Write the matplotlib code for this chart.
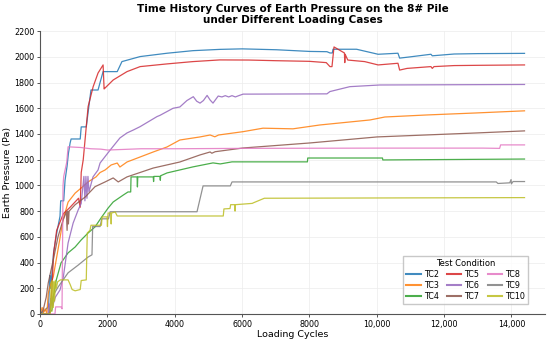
import matplotlib
matplotlib.use('Agg')
import matplotlib.pyplot as plt
from matplotlib.ticker import FuncFormatter, MultipleLocator

# Earth pressure (Pa) vs loading cycles
tc2_x = [0, 150, 250, 290, 300, 330, 400, 500, 590, 610, 700, 740, 800, 840, 890, 920, 1190, 1220, 1370, 1440, 1510,
         1720, 1780, 1870, 2290, 2430, 2970, 3770, 4540, 5340, 6000, 7030, 8010, 8520, 8610, 8680, 8700, 9400, 10040,
         10630, 10680, 11000, 11610, 11650, 12300, 13000, 14390]
tc2_y = [0, 30, 60, 300, 200, 250, 480, 640, 760, 880, 880, 1040, 1150, 1250, 1330, 1361, 1361, 1455, 1455, 1600, 1742,
         1742, 1800, 1885, 1885, 1963, 2002, 2028, 2048, 2058, 2062, 2055, 2042, 2040, 2030, 2030, 2059, 2059, 2020,
         2028, 1990, 2000, 2020, 2008, 2022, 2025, 2027]

tc3_x = [0, 60, 100, 150, 200, 240, 300, 390, 530, 680, 830, 1040, 1220, 1425, 1660, 1780, 1930, 2110, 2290, 2370,
         2580, 2970, 3360, 3770, 4150, 4750, 5050, 5190, 5300, 6030, 6620, 7510, 8310, 9800, 10240, 11500, 12910, 14390]
tc3_y = [0, 50, 10, 40, 0, 160, 220, 290, 500, 730, 870, 940, 980, 1027, 1066, 1100, 1120, 1159, 1174, 1143,
         1182, 1221, 1260, 1299, 1353, 1377, 1392, 1378, 1392, 1418, 1445, 1440, 1470, 1509, 1532, 1548, 1563, 1580]

tc4_x = [0, 240, 350, 390, 480, 620, 830, 1040, 1220, 1425, 1630, 1810, 2020, 2170, 2470, 2610, 2690, 2700, 2880,
         2890, 2900, 3360, 3370, 3380, 3560, 3570, 3580, 3770, 4540, 5135, 5350, 5700, 7940, 7950, 10170, 10180, 14390]
tc4_y = [0, 0, 30, 130, 265, 397, 475, 521, 576, 630, 677, 747, 824, 871, 925, 949, 949, 1066, 1066,
         988, 1066, 1066, 1030, 1070, 1070, 1040, 1075, 1097, 1144, 1175, 1167, 1183, 1183, 1213, 1213, 1198, 1205]

tc5_x = [0, 280, 300, 350, 400, 490, 690, 890, 1140, 1190, 1220, 1280, 1425, 1575, 1720, 1870, 1900, 1930, 2170, 2580,
         2970, 3770, 4540, 5340, 6200, 7000, 8000, 8500, 8610, 8670, 8730, 9040, 9050, 9060, 9140, 9640, 10040, 10630,
         10680, 10900, 11610, 11650, 11700, 12300, 13000, 14390]
tc5_y = [0, 0, 30, 200, 470, 650, 780, 830, 900, 830, 1100, 1200, 1613, 1768, 1874, 1937, 1750, 1758, 1820, 1885,
         1924, 1945, 1963, 1976, 1975, 1970, 1965, 1955, 1924, 1924, 2077, 2030, 1955, 2020, 1975, 1963, 1937, 1950,
         1897, 1910, 1924, 1910, 1924, 1932, 1934, 1937]

tc6_x = [0, 240, 260, 290, 310, 370, 450, 590, 690, 830, 980, 1130, 1220, 1300, 1330, 1360, 1390, 1420, 1450, 1570,
         1720, 1780, 2080, 2370, 2580, 2770, 2970, 3470, 3560, 3950, 4150, 4360, 4550, 4650, 4750, 4850, 4960, 5050,
         5135, 5290, 5400, 5500, 5600, 5700, 5800, 5900, 6030, 6230, 8520, 8610, 9200, 10090, 14390]
tc6_y = [0, 0, 80, 20, 120, 60, 130, 187, 290, 552, 707, 809, 860, 1070, 880, 1070, 900, 1070, 950, 1066,
         1120, 1174, 1275, 1369, 1408, 1431, 1457, 1535, 1545, 1600, 1610, 1660, 1690, 1655, 1640, 1660, 1700, 1664,
         1640, 1695, 1688, 1698, 1688, 1698, 1688, 1698, 1710, 1710, 1712, 1730, 1768, 1781, 1785]

tc7_x = [0, 90, 180, 240, 390, 530, 680, 780, 800, 820, 840, 860, 1040, 1340, 1630, 1930, 2170, 2320, 2580, 3360,
         4150, 4750, 5050, 5100, 5200, 6030, 8010, 10010, 12970, 14390]
tc7_y = [0, 30, 130, 240, 420, 600, 730, 795, 650, 800, 700, 800, 850, 910, 990, 1027, 1058, 1027, 1066, 1135,
         1182, 1237, 1260, 1250, 1262, 1291, 1330, 1377, 1408, 1424]

tc8_x = [0, 440, 460, 620, 650, 680, 700, 790, 830, 1200, 1500, 1800, 2000, 2500, 3000, 4000, 6000, 10000, 13150,
         13650, 13680, 14390]
tc8_y = [0, 0, 55, 55, 40, 1000, 1070, 1180, 1300, 1295, 1285, 1282, 1275, 1280, 1285, 1285, 1288, 1290, 1290,
         1288, 1315, 1315]

tc9_x = [0, 280, 300, 400, 534, 830, 1130, 1425, 1540, 1560, 1780, 1830, 2030, 2080, 4660, 4840, 5650, 5700, 13550,
         13600, 13950, 13990, 14000, 14050, 14390]
tc9_y = [0, 0, 50, 150, 210, 320, 380, 443, 460, 680, 680, 740, 740, 795, 795, 996, 996, 1027, 1027,
         1015, 1020, 1045, 1012, 1030, 1030]

tc10_x = [0, 290, 300, 330, 350, 370, 390, 410, 430, 450, 480, 520, 600, 830, 890, 950, 1040, 1190, 1220, 1370,
          1400, 1480, 1510, 1820, 1840, 1990, 2000, 2010, 2020, 2100, 2110, 2120, 2230, 2290, 5440, 5460, 5640,
          5660, 5780, 5790, 5800, 6300, 6340, 6660, 14390]
tc10_y = [0, 0, 10, 250, 20, 260, 50, 250, 100, 260, 200, 250, 265, 265, 230, 190, 180, 190, 260, 265,
          630, 650, 690, 690, 755, 755, 680, 755, 785, 785, 700, 785, 793, 762, 762, 817, 820,
          850, 850, 800, 850, 860, 865, 900, 905]

series = [('TC2', tc2_x, tc2_y), ('TC3', tc3_x, tc3_y), ('TC4', tc4_x, tc4_y),
          ('TC5', tc5_x, tc5_y), ('TC6', tc6_x, tc6_y), ('TC7', tc7_x, tc7_y),
          ('TC8', tc8_x, tc8_y), ('TC9', tc9_x, tc9_y), ('TC10', tc10_x, tc10_y)]

fig, ax = plt.subplots(figsize=(5.5, 3.42), dpi=100)
fig.subplots_adjust(left=0.073, right=0.991, bottom=0.082, top=0.909)

for name, xs, ys in series:
    ax.plot(xs, ys, label=name, linewidth=0.9, alpha=0.85)

ax.set_xlim(0, 15000)
ax.set_ylim(0, 2200)
ax.xaxis.set_major_locator(MultipleLocator(2000))
ax.yaxis.set_major_locator(MultipleLocator(200))
ax.xaxis.set_major_formatter(FuncFormatter(lambda v, p: f'{int(v):,}' if v >= 10000 else f'{int(v)}'))

ax.spines['top'].set_visible(False)
ax.spines['right'].set_visible(False)
for s in ['left', 'bottom']:
    ax.spines[s].set_color('#555555')
    ax.spines[s].set_linewidth(0.8)
ax.tick_params(labelsize=5.8, length=2.5, width=0.7, color='#555555', pad=1.5)
ax.grid(True, color='#ececec', linewidth=0.5)
ax.set_axisbelow(True)

ax.set_xlabel('Loading Cycles', fontsize=6.8, labelpad=1)
ax.set_ylabel('Earth Pressure (Pa)', fontsize=6.8, labelpad=1.5)
ax.set_title('Time History Curves of Earth Pressure on the 8# Pile\nunder Different Loading Cases',
             fontsize=7.5, fontweight='bold', pad=6, linespacing=1.1)

leg = ax.legend(title='Test Condition', ncol=3, loc='lower right', bbox_to_anchor=(0.975, 0.02),
                fontsize=5.8, title_fontsize=6, handlelength=1.8, columnspacing=1.0,
                labelspacing=0.25, handletextpad=0.4, borderpad=0.4, fancybox=False, edgecolor='#bbbbbb')
for h in leg.get_lines():
    h.set_linewidth(1.5)

plt.savefig('out.png', dpi=100)
